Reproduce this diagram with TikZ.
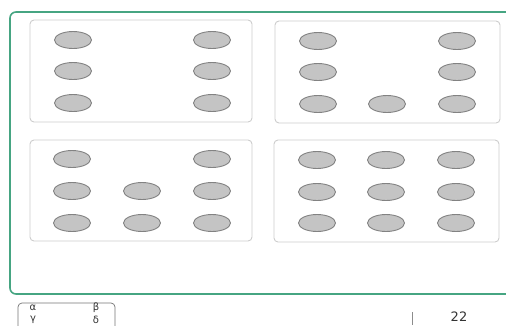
\documentclass[tikz,border=0pt]{standalone}
\usepackage{fontspec}
\setmainfont{DejaVu Sans}
\usetikzlibrary{shapes.geometric}
\definecolor{framegreen}{RGB}{70,165,130}
\definecolor{boxgray}{RGB}{205,205,205}
\definecolor{dotfill}{RGB}{196,196,196}
\definecolor{dotedge}{RGB}{130,130,130}
\tikzset{
  dot/.style={ellipse,draw=dotedge,fill=dotfill,line width=0.9pt,minimum width=37pt,minimum height=17pt,inner sep=0pt},
  panel/.style={draw=boxgray,line width=0.9pt,rounded corners=4pt},
  frameline/.style={draw=framegreen,line width=1.6pt,rounded corners=6pt},
  lbl/.style={inner sep=0pt,font=\fontsize{10}{10}\selectfont,text=black!80},
}
\begin{document}
\begin{tikzpicture}[x=1pt,y=-1pt]
\useasboundingbox (0,0) rectangle (506,325);
% green frame
\draw[frameline] (520,12) -- (10,12) -- (10,294) -- (520,294);
% panels
\draw[panel] (30,20) rectangle (252,122);
\draw[panel] (275,21) rectangle (500,123);
\draw[panel] (30,140) rectangle (252,241);
\draw[panel] (274,140) rectangle (499,242);
% panel 1
\foreach \n/\x/\y in {a1/73/40,a2/212/40,a3/73/71,a4/212/71,a5/73/103,a6/212/103}
  \node[dot] (\n) at (\x,\y) {};
% panel 2
\foreach \n/\x/\y in {b1/318/41,b2/457/41,b3/318/72,b4/457/72,b5/318/104,b6/387/104,b7/457/104}
  \node[dot] (\n) at (\x,\y) {};
% panel 3
\foreach \n/\x/\y in {c1/72/159,c2/212/159,c3/72/191,c4/142/191,c5/212/191,c6/72/223,c7/142/223,c8/212/223}
  \node[dot] (\n) at (\x,\y) {};
% panel 4
\foreach \i/\x in {1/317,2/386,3/456}
  \foreach \j/\y in {1/160,2/192,3/223}
    \node[dot] (d\i\j) at (\x,\y) {};
% greek legend box
\draw[draw=black!55,line width=0.7pt,rounded corners=4pt] (18,330) -- (18,303) -- (115,303) -- (115,330);
\node[lbl] (alpha) at (33,308) {α};
\node[lbl] (beta) at (96,308) {β};
\node[lbl] (gamma) at (33,320) {γ};
\node[lbl] (delta) at (96,320) {δ};
% page number
\draw[draw=black!45,line width=0.7pt] (412,312) -- (412,325);
\node[inner sep=0pt,font=\fontsize{13}{13}\selectfont,text=black!80] (page) at (459,317) {22};
\end{tikzpicture}
\end{document}
